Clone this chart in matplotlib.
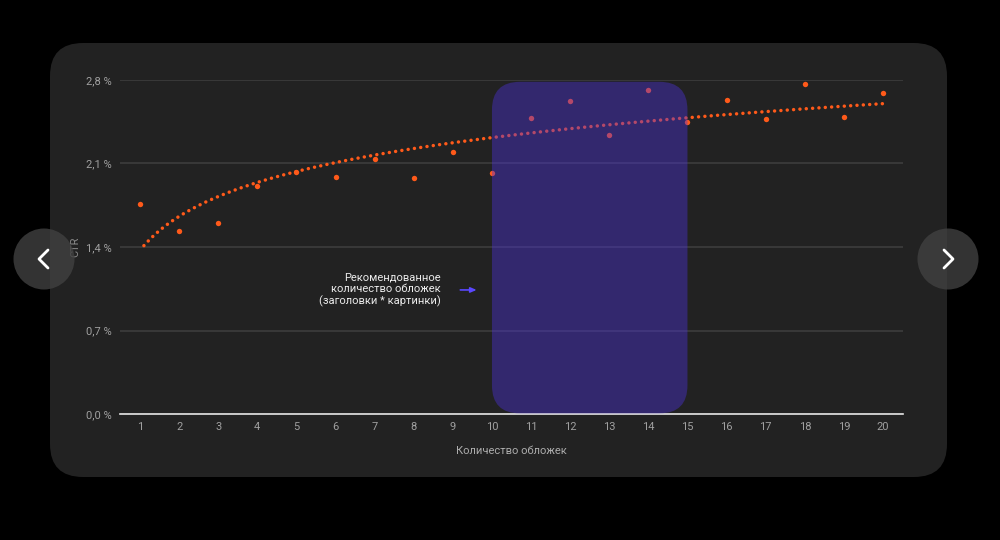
import numpy as np
import matplotlib
matplotlib.use('Agg')
import matplotlib.pyplot as plt
from matplotlib.patches import FancyBboxPatch, Circle

plt.rcParams['font.family'] = ['Roboto', 'DejaVu Sans']

# data
covers = np.arange(1, 21)
ctr = [1.76, 1.53, 1.60, 1.91, 2.03, 1.99, 2.14, 1.98, 2.20, 2.02,
       2.48, 2.62, 2.34, 2.72, 2.45, 2.63, 2.47, 2.77, 2.49, 2.69]
yticks = [0.0, 0.7, 1.4, 2.1, 2.8]
ytick_labels = ['0,0 %', '0,7 %', '1,4 %', '2,1 %', '2,8 %']
rec_range = (10, 15)
note = 'Рекомендованное\nколичество обложек\n(заголовки * картинки)'

orange = '#ff5a1a'

fig = plt.figure(figsize=(10, 5.4), dpi=100)
fig.patch.set_facecolor('black')

# background layer in pixel coordinates
bg = fig.add_axes([0, 0, 1, 1], zorder=0)
bg.set_xlim(0, 1000)
bg.set_ylim(540, 0)
bg.axis('off')
bg.add_patch(FancyBboxPatch((50, 43), 897, 434, boxstyle='round,pad=0,rounding_size=33',
                            fc='#222222', ec='none'))

# main chart
ax = fig.add_axes([0.120, 1 - 414 / 540, 0.783, 334 / 540], zorder=1)
ax.set_facecolor('none')
ax.set_xlim(1 - 20 / 39.1, 20 + 20 / 39.1)
ax.set_ylim(0, 2.8)
for s in ['top', 'right', 'left']:
    ax.spines[s].set_visible(False)
ax.spines['bottom'].set_color('#e6e6e6')
ax.spines['bottom'].set_linewidth(1.2)
ax.set_yticks(yticks)
ax.set_yticklabels(ytick_labels)
ax.set_xticks(covers)
ax.tick_params(length=0, colors='#a0a0a0', labelsize=8)
ax.tick_params(axis='y', pad=6)
ax.tick_params(axis='x', pad=6)
ax.grid(axis='y', color='#404040', linewidth=1.1)
ax.set_axisbelow(True)
ax.set_xlabel('Количество обложек', color='#adadad', fontsize=8, labelpad=10)
ax.set_ylabel('CTR', color='#8a8a8a', fontsize=8, labelpad=4)

# log trend fitted to the points
b, a = np.polyfit(np.log(covers), ctr, 1)
tx = np.linspace(1.1, 20, 300)
ax.plot(tx, a + b * np.log(tx), color=orange, lw=2.5, linestyle=(0, (0.01, 1.82)),
        dash_capstyle='round', zorder=3)
ax.scatter(covers, ctr, s=15, color=orange, zorder=4, linewidths=0)

# recommended range box
px_x = 39.1
px_y = 334 / 2.8
ax.add_patch(FancyBboxPatch((rec_range[0], 0.005), rec_range[1] - rec_range[0], 2.78,
                            boxstyle='round,pad=0,rounding_size=0.72',
                            mutation_aspect=px_x / px_y,
                            fc='#4c31d8', alpha=0.42, ec='none', zorder=5))

ax.text(8.70, 1.04, note, ha='right', va='center', color='#ececec', fontsize=8,
        linespacing=1.2)
ax.annotate('', xy=(9.68, 1.04), xytext=(9.12, 1.04),
            arrowprops=dict(arrowstyle='-|>,head_length=0.35,head_width=0.15',
                            color='#5a48ff', lw=1.2))

# navigation buttons on top
top = fig.add_axes([0, 0, 1, 1], zorder=2)
top.set_xlim(0, 1000)
top.set_ylim(540, 0)
top.axis('off')
top.set_facecolor('none')
for cx in [44, 948]:
    top.add_patch(Circle((cx, 259), 30.5, fc='#414141', alpha=0.8, ec='none'))
top.plot([48, 39, 48], [250, 259, 268], color='white', lw=2, solid_capstyle='round',
         solid_joinstyle='round')
top.plot([944, 953, 944], [250, 259, 268], color='white', lw=2, solid_capstyle='round',
         solid_joinstyle='round')

fig.savefig('out.png', dpi=100, facecolor='black')
